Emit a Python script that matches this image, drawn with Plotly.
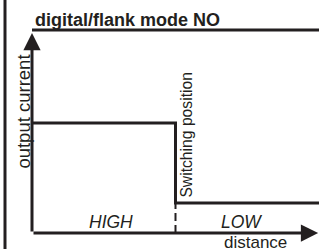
import plotly.graph_objects as go

# ---- data (schematic units) ----
switch_pos = 5.0          # distance of the switching position
dist_max = 10.0           # end of the distance axis
current_high = 11.0       # output current before switching position
current_low = 3.0         # output current after switching position
current_top = 20.3        # top frame level
current_axis_max = 20.0   # tip of the output-current axis

signal_x = [0, switch_pos, switch_pos, dist_max]
signal_y = [current_high, current_high, current_low, current_low]
dash_x = [switch_pos, switch_pos]
dash_y = [0, current_low]

title_text = "digital/flank mode NO"
y_label = "output current"
x_label = "distance"
switch_label = "Switching position"
zone_labels = ["HIGH", "LOW"]
zone_centers = [2.75, 7.3]

INK = "#231f20"
FONT = "Liberation Sans, Arial, sans-serif"

fig = go.Figure()

fig.add_trace(go.Scatter(x=signal_x, y=signal_y, mode="lines",
                         line=dict(color=INK, width=3), hoverinfo="skip"))
fig.add_trace(go.Scatter(x=dash_x, y=dash_y, mode="lines",
                         line=dict(color=INK, width=2, dash="8px,4px"), hoverinfo="skip"))

annotations = []
# axes with arrows
annotations.append(dict(x=dist_max - 0.03, y=0, ax=0, ay=0, xref="x", yref="y", axref="x", ayref="y",
                        text="", showarrow=True, arrowhead=2, arrowsize=1.15, arrowwidth=3,
                        arrowcolor=INK))
annotations.append(dict(x=0, y=current_axis_max, ax=0, ay=0, xref="x", yref="y", axref="x", ayref="y",
                        text="", showarrow=True, arrowhead=2, arrowsize=1.15, arrowwidth=3,
                        arrowcolor=INK))
# texts
annotations.append(dict(x=0.035, y=21.3, xref="x", yref="y", text="<b>" + title_text + "</b>",
                        showarrow=False, xanchor="left", yanchor="middle",
                        font=dict(family=FONT, size=18, color=INK)))
annotations.append(dict(x=-0.31, y=12.15, xref="x", yref="y", text=y_label, textangle=-90,
                        showarrow=False, xanchor="center", yanchor="middle",
                        font=dict(family=FONT, size=18.5, color=INK)))
annotations.append(dict(x=switch_pos + 0.37, y=9.85, xref="x", yref="y", text=switch_label, textangle=-90,
                        showarrow=False, xanchor="center", yanchor="middle",
                        font=dict(family=FONT, size=15.7, color=INK)))
for lab, cx in zip(zone_labels, zone_centers):
    annotations.append(dict(x=cx, y=1.1, xref="x", yref="y", text="<i>" + lab + "</i>",
                            showarrow=False, xanchor="center", yanchor="middle",
                            font=dict(family=FONT, size=17.5, color=INK)))
annotations.append(dict(x=7.77, y=-0.95, xref="x", yref="y", text=x_label,
                        showarrow=False, xanchor="center", yanchor="middle",
                        font=dict(family=FONT, size=17, color=INK)))

shapes = [
    dict(type="line", xref="paper", yref="paper", x0=5 / 319, x1=5 / 319, y0=0, y1=1,
         line=dict(color=INK, width=3)),
    dict(type="line", xref="x", yref="y", x0=0, x1=dist_max + 0.1, y0=current_top, y1=current_top,
         line=dict(color=INK, width=3)),
]

fig.update_layout(
    width=319, height=249,
    margin=dict(l=0, r=0, t=0, b=0),
    paper_bgcolor="white", plot_bgcolor="white",
    showlegend=False,
    xaxis=dict(range=[-32 / 28.7, 10], visible=False, fixedrange=True),
    yaxis=dict(range=[-1.6, 23.3], visible=False, fixedrange=True),
    annotations=annotations,
    shapes=shapes,
)

fig.write_html("out.html", config={"displayModeBar": False},
               post_script="document.body.style.margin='0';document.body.style.overflow='hidden';")
